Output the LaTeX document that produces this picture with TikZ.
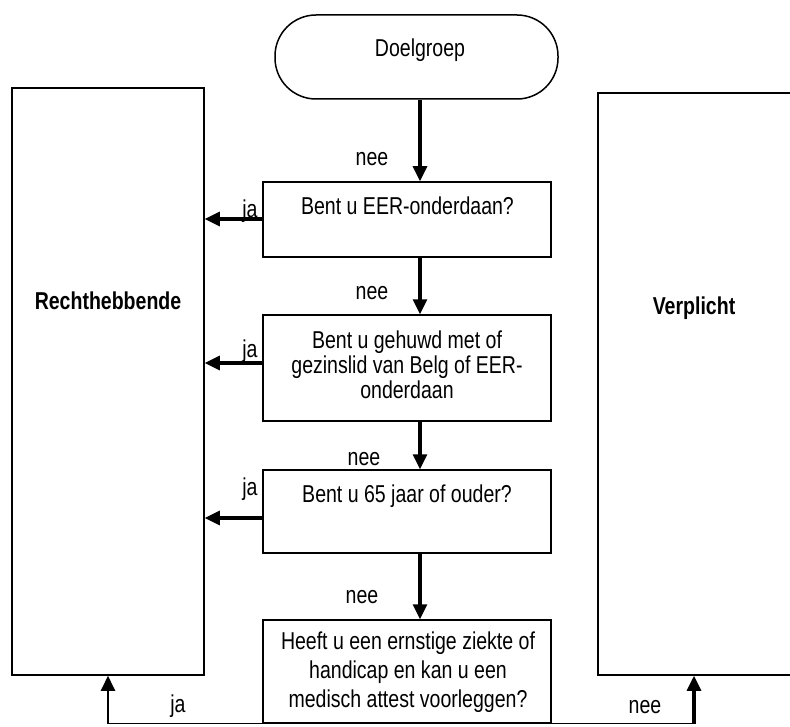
\documentclass[tikz,border=0pt]{standalone}
\usepackage{fontspec}
\setmainfont{Liberation Sans}[FakeStretch=0.80]
\usetikzlibrary{arrows.meta}
\begin{document}
\begin{tikzpicture}[x=1bp,y=-1bp,
  box/.style={draw, line width=1.5bp, inner sep=0pt, minimum width=288bp},
  txt/.style={inner sep=0pt, font=\fontsize{24.5}{29}\selectfont},
  btxt/.style={inner sep=0pt, font=\fontsize{24.5}{29}\selectfont\bfseries},
  arr/.style={line width=3.2bp, -{Triangle[length=15bp,width=14bp]}},
  arrmid/.style={line width=2bp, -{Triangle[length=15bp,width=14bp]}},
  thinline/.style={line width=1.3bp}]
\useasboundingbox (0,0) rectangle (790,727);
\clip (0,0) rectangle (790,727);
% terminator
\node[draw, line width=1.5bp, rounded corners=41bp, minimum width=283bp, minimum height=84bp] (T) at (416.5,57) {};
\node[txt, anchor=base] (tT) at (420,57) {Doelgroep};
% side boxes
\node[box, minimum width=192bp, minimum height=587bp] (R) at (108,381.5) {};
\node[btxt, anchor=base] (tR) at (108,309) {Rechthebbende};
\node[box, minimum width=202bp, minimum height=582bp] (V) at (699,384) {};
\node[btxt, anchor=base] (tV) at (694,314) {Verplicht};
% question boxes
\node[box, minimum height=75bp] (B1) at (407,219.5) {};
\node[txt, anchor=base] (t1) at (407.5,214) {Bent u EER-onderdaan?};
\node[box, minimum height=106bp] (B2) at (407,368) {};
\node[txt, anchor=north, align=center, font=\fontsize{24.5}{25}\selectfont] (t2) at (407,331) {Bent u gehuwd met of\\gezinslid van Belg of EER-\\onderdaan};
\node[box, minimum height=83bp] (B3) at (407,511.5) {};
\node[txt, anchor=base] (t3) at (407,502) {Bent u 65 jaar of ouder?};
\node[box, minimum height=103bp] (B4) at (407,671.5) {};
\node[txt, anchor=north, align=center, font=\fontsize{24.5}{29}\selectfont] (t4) at (408,632) {Heeft u een ernstige ziekte of\\handicap en kan u een\\medisch attest voorleggen?};
% helper coordinates
\coordinate (col) at (420,0);
\coordinate (colV) at (694,0);
\coordinate (j1) at (0,219);
\coordinate (j2) at (0,363);
\coordinate (j3) at (0,518);
% vertical flow
\draw[arr] (T.south -| col) -- (B1.north -| col);
\draw[arr] (B1.south -| col) -- (B2.north -| col);
\draw[arr] (B2.south -| col) -- (B3.north -| col);
\draw[arr] (B3.south -| col) -- (B4.north -| col);
% ja arrows
\draw[arr] (B1.west |- j1) -- (R.east |- j1);
\draw[arr] (B2.west |- j2) -- (R.east |- j2);
\draw[arr] (B3.west |- j3) -- (R.east |- j3);
% bottom connectors
\draw[thinline] (B4.south west) -- (B4.south west -| R.south);
\draw[arrmid] (B4.south west -| R.south) -- (R.south);
\draw[thinline] (B4.south east) -- (B4.south east -| colV);
\draw[arr] (B4.south east -| colV) -- (V.south -| colV);
% labels
\node[txt, anchor=base] (n1) at (372,165) {nee};
\node[txt, anchor=base] (n2) at (372,299) {nee};
\node[txt, anchor=base] (n3) at (364,465) {nee};
\node[txt, anchor=base] (n4) at (362,603) {nee};
\node[txt, anchor=base] (n5) at (645,713) {nee};
\node[txt, anchor=base] (ja1) at (250,217) {ja};
\node[txt, anchor=base] (ja2) at (250,357) {ja};
\node[txt, anchor=base] (ja3) at (250,495) {ja};
\node[txt, anchor=base] (ja4) at (178,712) {ja};
\end{tikzpicture}
\end{document}
